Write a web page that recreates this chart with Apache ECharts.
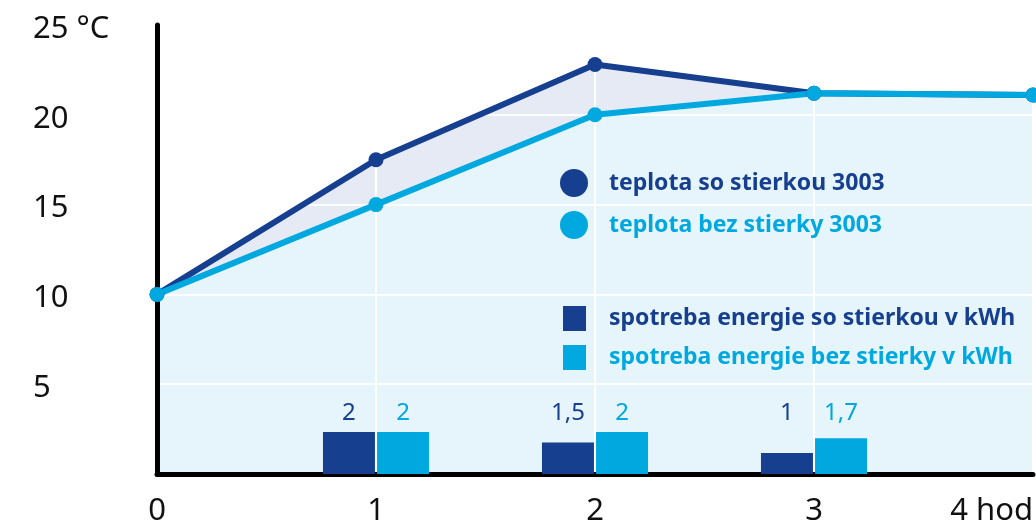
<!DOCTYPE html>
<html>
<head>
<meta charset="utf-8">
<script src="https://cdn.jsdelivr.net/npm/echarts@6/dist/echarts.min.js"></script>
<style>
html, body { margin: 0; padding: 0; background: #fff; }
#chart { width: 1036px; height: 524px; }
</style>
</head>
<body>
<div id="chart"></div>
<script>
// hodiny
let hours = ['0', '1', '2', '3', '4'];
// teplota (°C)
let tempWith = [10, 17.5, 22.8, 21.2, 21.1];
let tempWithout = [10, 15, 20, 21.2, 21.1];
// spotreba energie (kWh)
let energyWith = ['-', 2, 1.5, 1, '-'];
let energyWithout = ['-', 2, 2, 1.7, '-'];

let dark = '#163f8f';
let light = '#00a8e0';
let font = 'Noto Sans';

let myChart = echarts.init(document.getElementById('chart'));
let option = {
    animation: false,
    grid: { left: 157, right: 3, top: 25, bottom: 50, outerBoundsMode: 'none' },
    legend: [
        {
            left: 560, top: 169, orient: 'vertical', padding: 0,
            itemWidth: 28, itemHeight: 28, itemGap: 14,
            textStyle: { fontFamily: font, fontWeight: 'bold', fontSize: 23, padding: [0, 0, 0, 16] },
            selectedMode: false,
            data: [
                { name: 'teplota so stierkou 3003', icon: 'circle', textStyle: { color: dark } },
                { name: 'teplota bez stierky 3003', icon: 'circle', textStyle: { color: light } }
            ]
        },
        {
            left: 563, top: 306, orient: 'vertical', padding: 0,
            itemWidth: 23, itemHeight: 25, itemGap: 14,
            textStyle: { fontFamily: font, fontWeight: 'bold', fontSize: 23, padding: [0, 0, 0, 18] },
            selectedMode: false,
            data: [
                { name: 'spotreba energie so stierkou v kWh', icon: 'rect', textStyle: { color: dark } },
                { name: 'spotreba energie bez stierky v kWh', icon: 'rect', textStyle: { color: light } }
            ]
        }
    ],
    xAxis: {
        type: 'category',
        data: hours,
        boundaryGap: false,
        z: 3,
        axisLine: { lineStyle: { color: '#000', width: 5 } },
        axisTick: { show: false },
        splitLine: { show: true, lineStyle: { color: '#fff', width: 2 } },
        axisLabel: {
            fontFamily: font, fontSize: 31, color: '#111', margin: 22,
            alignMaxLabel: 'right',
            formatter: v => v === '4' ? '4 hod' : v
        }
    },
    yAxis: [
        {
            type: 'value', min: 0, max: 25, interval: 5,
            z: 3,
            axisLine: { show: true, lineStyle: { color: '#000', width: 5 } },
            axisTick: { show: false },
            splitLine: { show: true, lineStyle: { color: '#fff', width: 2 } },
            axisLabel: {
                fontFamily: font, fontSize: 31, color: '#111',
                align: 'left', margin: 124,
                verticalAlign: 'top', lineHeight: 8,
                formatter: v => v === 0 ? '' : (v === 25 ? '25 °C' : String(v))
            }
        },
        { type: 'value', min: 0, max: 21.4, show: false }
    ],
    series: [
        // plochy pod krivkami
        {
            type: 'line', data: tempWith, z: 1, symbol: 'none', silent: true,
            lineStyle: { width: 0 }, areaStyle: { color: '#e6eaf5', opacity: 1 }
        },
        {
            type: 'line', data: tempWithout, z: 1, symbol: 'none', silent: true,
            lineStyle: { width: 0 }, areaStyle: { color: '#e6f5fb', opacity: 1 }
        },
        {
            name: 'spotreba energie so stierkou v kWh', type: 'bar', yAxisIndex: 1, z: 4,
            data: energyWith, barWidth: 52, barGap: '4%', itemStyle: { color: dark },
            label: {
                show: true, position: 'insideBottom', offset: [0, -44],
                fontFamily: font, fontSize: 24, color: dark,
                formatter: p => String(p.value).replace('.', ',')
            }
        },
        {
            name: 'spotreba energie bez stierky v kWh', type: 'bar', yAxisIndex: 1, z: 4,
            data: energyWithout, barWidth: 52, itemStyle: { color: light },
            label: {
                show: true, position: 'insideBottom', offset: [0, -44],
                fontFamily: font, fontSize: 24, color: light,
                formatter: p => String(p.value).replace('.', ',')
            }
        },
        {
            name: 'teplota so stierkou 3003', type: 'line', data: tempWith, z: 5,
            symbol: 'circle', symbolSize: 15,
            lineStyle: { color: dark, width: 6 }, itemStyle: { color: dark }
        },
        {
            name: 'teplota bez stierky 3003', type: 'line', data: tempWithout, z: 5,
            symbol: 'circle', symbolSize: 15,
            lineStyle: { color: light, width: 6 }, itemStyle: { color: light }
        }
    ]
};
myChart.setOption(option);
window.addEventListener('resize', function () {
    myChart.resize();
});
</script>
</body>
</html>
